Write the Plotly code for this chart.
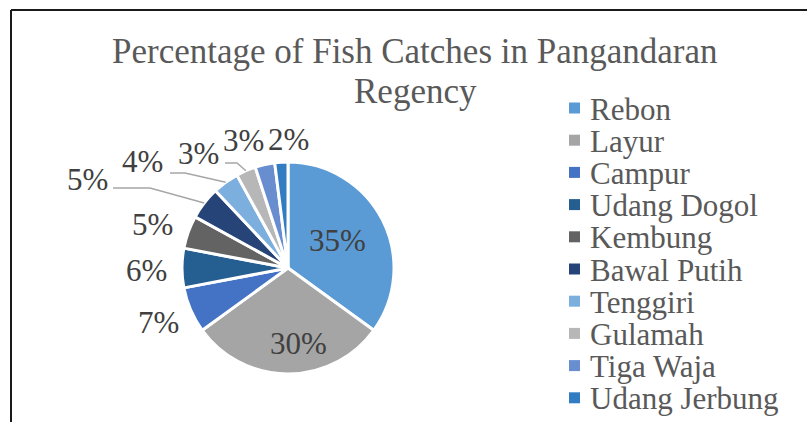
import math
import plotly.graph_objects as go

W, H = 807, 422

species = ["Rebon", "Layur", "Campur", "Udang Dogol", "Kembung",
           "Bawal Putih", "Tenggiri", "Gulamah", "Tiga Waja", "Udang Jerbung"]
share = [35, 30, 7, 6, 5, 5, 4, 3, 3, 2]
colors = ["#5B9BD5", "#A5A5A5", "#4472C4", "#255E91", "#636363",
          "#264478", "#7CAFDD", "#B7B7B7", "#698ED0", "#327DC2"]

title_lines = ["Percentage of Fish Catches in Pangandaran", "Regency"]

# layout (pixels): pie centre / radius, data-label anchors, leader line starts
cx, cy, r = 288, 268, 106
label_pos = [(337, 240), (298, 343), (158, 322), (146, 270), (152, 224),
             (87, 179), (142, 161), (198, 153), (243, 141), (288, 139)]
leader_from = {5: [(113, 188), (150, 188)],
               6: [(170, 173), (185, 173)],
               7: [(225, 163), (237, 163)]}


def px(x, y):
    return x / W, 1 - y / H


fig = go.Figure()
fig.add_trace(go.Pie(
    labels=species,
    values=share,
    sort=False,
    direction="clockwise",
    rotation=0,
    marker=dict(colors=colors, line=dict(color="white", width=3)),
    textinfo="none",
    domain=dict(x=[(cx - r) / W, (cx + r) / W],
                y=[1 - (cy + r) / H, 1 - (cy - r) / H]),
    hoverinfo="label+percent",
    showlegend=False,
))

annotations = []
shapes = []

# title (two lines, Excel's line spacing is tighter than plotly's)
for k, line in enumerate(title_lines):
    tx, ty = px(415, 30 + 40 * k)
    annotations.append(dict(
        text=line, x=tx, y=ty, xref="paper", yref="paper",
        xanchor="center", yanchor="top", showarrow=False,
        font=dict(family="Liberation Serif", size=35, color="#595959"),
    ))

# data labels
total = sum(share)
cum = 0
for i, v in enumerate(share):
    mid = (cum + v / 2) / total * 2 * math.pi
    cum += v
    lx, ly = px(*label_pos[i])
    annotations.append(dict(
        text=f"{round(v / total * 100)}%", x=lx, y=ly,
        xref="paper", yref="paper", xanchor="center", yanchor="middle",
        showarrow=False,
        font=dict(family="Liberation Serif", size=31, color="#404040"),
    ))
    if i in leader_from:
        # end point on the slice edge at its mid angle
        ex, ey = cx + r * math.sin(mid), cy - r * math.cos(mid)
        pts = [px(*p) for p in leader_from[i]] + [px(ex, ey)]
        path = "M " + " L ".join(f"{a},{b}" for a, b in pts)
        shapes.append(dict(type="path", xref="paper", yref="paper", path=path,
                           line=dict(color="#A6A6A6", width=1.5)))

# legend (drawn by hand to get Excel's tight spacing)
for i, name in enumerate(species):
    yc = 108 + 32.2 * i
    x0, y0 = px(569, yc - 5.5)
    x1, y1 = px(580, yc + 5.5)
    shapes.append(dict(type="rect", xref="paper", yref="paper",
                       x0=x0, x1=x1, y0=y0, y1=y1,
                       fillcolor=colors[i], line=dict(width=0)))
    ax, ay = px(588, yc + 1)
    annotations.append(dict(
        text=name, x=ax, y=ay, xref="paper", yref="paper",
        xanchor="left", yanchor="middle", showarrow=False,
        font=dict(family="Liberation Serif", size=31, color="#595959"),
    ))

# chart frame (only top and left edges fall inside the crop)
shapes.append(dict(type="line", xref="paper", yref="paper",
                   x0=11 / W, x1=1.01, y0=1 - 10 / H, y1=1 - 10 / H,
                   line=dict(color="#1a1a1a", width=2)))
shapes.append(dict(type="line", xref="paper", yref="paper",
                   x0=11 / W, x1=11 / W, y0=1 - 10 / H, y1=-0.01,
                   line=dict(color="#1a1a1a", width=2)))

fig.update_layout(
    width=W, height=H,
    margin=dict(l=0, r=0, t=0, b=0),
    paper_bgcolor="white",
    plot_bgcolor="white",
    annotations=annotations,
    shapes=shapes,
)

fig.write_html("out.html", config={"displayModeBar": False},
               post_script="document.body.style.margin='0';")
